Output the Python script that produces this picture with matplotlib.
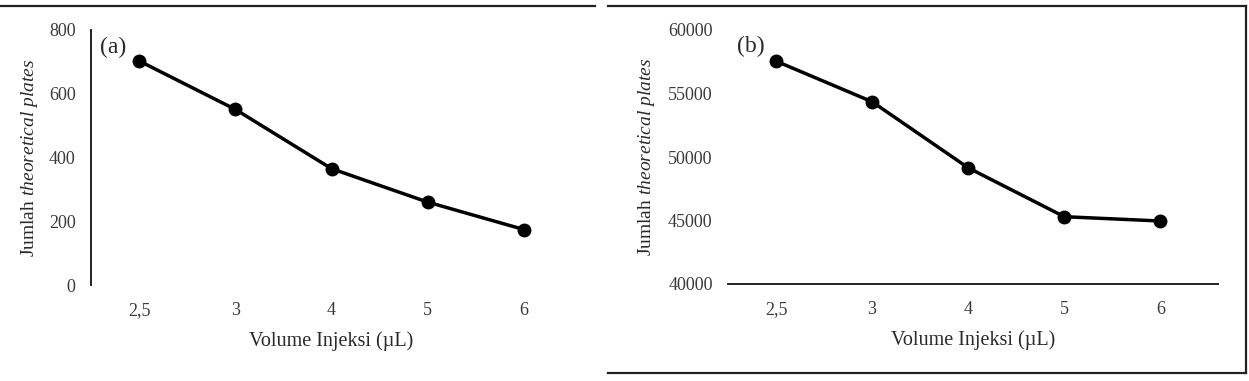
import matplotlib
matplotlib.use("Agg")
import matplotlib.pyplot as plt
from matplotlib.lines import Line2D

plt.rcParams['font.family'] = ['Liberation Serif', 'DejaVu Serif']
plt.rcParams['mathtext.fontset'] = 'custom'
plt.rcParams['mathtext.rm'] = 'Liberation Serif'
plt.rcParams['mathtext.it'] = 'Liberation Serif:italic'

categories = ["2,5", "3", "4", "5", "6"]
plates_a = [703, 551, 365, 260, 174]
plates_b = [57550, 54350, 49150, 45300, 44960]

W, H = 1249, 381
fig = plt.figure(figsize=(W / 100, H / 100), dpi=100)

def ax_rect(x0, x1, y0, y1):
    return [x0 / W, 1 - y1 / H, (x1 - x0) / W, (y1 - y0) / H]

text_col = '#2a2a2a'
tick_col = '#3a3a3a'

def style(ax, ylim, yticks, label, show_yaxis):
    x = list(range(len(categories)))
    ax.set_ylim(*ylim)
    ax.set_yticks(yticks)
    ax.set_xticks(x)
    ax.set_xticklabels(categories)
    for s in ['top', 'right']:
        ax.spines[s].set_visible(False)
    ax.spines['left'].set_visible(show_yaxis)
    ax.spines['bottom'].set_visible(not show_yaxis)
    for s in ['left', 'bottom']:
        ax.spines[s].set_linewidth(1.4)
        ax.spines[s].set_color('#222222')
    ax.tick_params(length=0, labelsize=13, colors=tick_col, pad=11)
    ax.tick_params(axis='x', pad=12)
    ax.set_xlabel("Volume Injeksi (µL)", fontsize=14.5, color=text_col, labelpad=9)
    ax.set_ylabel("Jumlah $\\it{theoretical\\ plates}$", fontsize=14, color=text_col)
    ax.text(0.018, 0.975, label, transform=ax.transAxes,
            fontsize=17, color=text_col, va='top', ha='left')

ax1 = fig.add_axes(ax_rect(91, 572, 30, 285))
ax1.plot(range(len(categories)), plates_a, color='black', lw=2.5, marker='o', ms=9)
ax1.set_xlim(-0.5, 4.5)
style(ax1, (0, 800), [0, 200, 400, 600, 800], "(a)", True)
ax1.yaxis.set_label_coords(-0.105, 0.5)

ax2 = fig.add_axes(ax_rect(728, 1218, 30, 284))
ax2.plot(range(len(categories)), plates_b, color='black', lw=2.5, marker='o', ms=9)
ax2.set_xlim(-0.5, 4.6)
style(ax2, (40000, 60000), [40000, 45000, 50000, 55000, 60000], "(b)", False)
ax2.yaxis.set_label_coords(-0.145, 0.5)

def fline(x0, y0, x1, y1):
    fig.add_artist(Line2D([x0 / W, x1 / W], [1 - y0 / H, 1 - y1 / H],
                          color='#222222', lw=1.6, transform=fig.transFigure))

fline(0, 6, 595, 6)
fline(608, 6, 1246, 6)
fline(608, 373, 1246, 373)
fline(1246, 6, 1246, 373)

fig.savefig("out.png", dpi=100, facecolor='white')
